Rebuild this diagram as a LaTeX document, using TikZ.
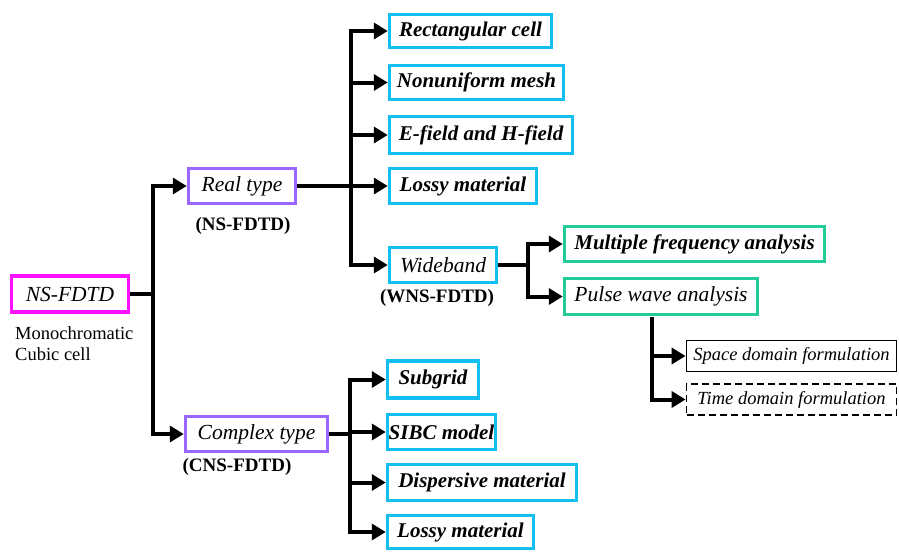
\documentclass[tikz,border=0pt]{standalone}
\usepackage{fontspec}
\setmainfont{Liberation Serif}
\usetikzlibrary{arrows.meta}
\definecolor{cmag}{HTML}{FF10FF}
\definecolor{cpur}{HTML}{9966FF}
\definecolor{ccyan}{HTML}{11BFF0}
\definecolor{cgrn}{HTML}{22CC99}
\begin{document}
\begin{tikzpicture}[x=1pt,y=-1pt,
  box/.style={draw, line width=3.5pt, fill=white, inner sep=0pt, font=\fontsize{21}{23}\selectfont\bfseries\itshape},
  magbox/.style={box, draw=cmag, font=\fontsize{21.5}{23}\selectfont\itshape},
  purbox/.style={box, draw=cpur, font=\fontsize{21.5}{23}\selectfont\itshape},
  cybox/.style={box, draw=ccyan},
  cyplain/.style={box, draw=ccyan, font=\fontsize{21.5}{23}\selectfont\itshape},
  grbox/.style={box, draw=cgrn},
  grplain/.style={box, draw=cgrn, font=\fontsize{21.5}{23}\selectfont\itshape},
  thinbox/.style={draw, line width=1.8pt, fill=white, inner sep=0pt, font=\fontsize{18.5}{20}\selectfont\itshape},
  lbl/.style={font=\fontsize{19}{21}\selectfont\bfseries, inner sep=0pt},
  conn/.style={line width=4pt},
  arr/.style={line width=4pt, -{Triangle[length=14pt,width=16pt]}}
]
\useasboundingbox (0,0) rectangle (899,552);

% left root
\node[magbox, minimum width=117pt, minimum height=36pt] (ns) at (70,294) {NS-FDTD};
\node[font=\fontsize{18.5}{21}\selectfont, align=left, anchor=north west, inner sep=0pt] (mono) at (15,326) {Monochromatic\\Cubic cell};

% second level
\node[purbox, minimum width=107pt, minimum height=35pt] (real) at (242,186) {Real type};
\node[lbl] (nsl) at (243,226) {(NS-FDTD)};
\node[purbox, minimum width=142pt, minimum height=35pt] (complex) at (256.5,434) {Complex type};
\node[lbl] (cnsl) at (237,467) {(CNS-FDTD)};

% real type children
\node[cybox, minimum width=162pt, minimum height=33pt] (rect) at (470.5,31) {Rectangular cell};
\node[cybox, minimum width=174pt, minimum height=34pt] (nonu) at (476.5,82.5) {Nonuniform mesh};
\node[cybox, minimum width=183pt, minimum height=37pt] (efield) at (481,135) {E-field and H-field};
\node[cybox, minimum width=147pt, minimum height=35pt] (lossy1) at (463,186) {Lossy material};
\node[cyplain, minimum width=107pt, minimum height=35pt] (wide) at (443,265) {Wideband};
\node[lbl] (wnsl) at (437,298) {(WNS-FDTD)};

% wideband children
\node[grbox, minimum width=260pt, minimum height=35pt] (mfa) at (694.5,244) {Multiple frequency analysis};
\node[grplain, minimum width=193pt, minimum height=36pt] (pwa) at (661,296.5) {Pulse wave analysis};

% pulse wave children
\node[thinbox, minimum width=210pt, minimum height=31pt] (space) at (791.5,356) {Space domain formulation};
\node[thinbox, dashed, dash pattern=on 7pt off 4pt, minimum width=210pt, minimum height=31pt] (time) at (791.5,399.5) {Time domain formulation};

% complex children
\node[cybox, minimum width=91pt, minimum height=37pt] (sub) at (433,379.5) {Subgrid};
\node[cybox, minimum width=108pt, minimum height=35pt] (sibc) at (441.5,432) {SIBC model};
\node[cybox, minimum width=189pt, minimum height=36pt] (disp) at (482,482.5) {Dispersive material};
\node[cybox, minimum width=146pt, minimum height=33pt] (lossy2) at (460.5,532) {Lossy material};

% junctions
\coordinate (j1) at (153,294);
\coordinate (j2) at (351,186);
\coordinate (j3) at (528,265);
\coordinate (j4) at (652,317);
\coordinate (j5) at (350,434);

% connectors
\draw[conn] (ns.east) -- (j1);
\draw[arr] (j1) |- (real.west);
\draw[arr] (j1) |- (complex.west);

\draw[conn] (real.east) -- (j2);
\draw[arr] (j2) |- (rect.west);
\draw[arr] (j2) |- (nonu.west);
\draw[arr] (j2) |- (efield.west);
\draw[arr] (j2) -- (lossy1.west);
\draw[arr] (j2) |- (wide.west);

\draw[conn] (wide.east) -- (j3);
\draw[arr] (j3) |- (mfa.west);
\draw[arr] (j3) |- (pwa.west);

\draw[arr] (j4) |- (space.west);
\draw[arr] (j4) |- (time.west);

\draw[conn] (complex.east) -- (j5);
\draw[arr] (j5) |- (sub.west);
\draw[arr] (j5) |- (sibc.west);
\draw[arr] (j5) |- (disp.west);
\draw[arr] (j5) |- (lossy2.west);
\end{tikzpicture}
\end{document}
